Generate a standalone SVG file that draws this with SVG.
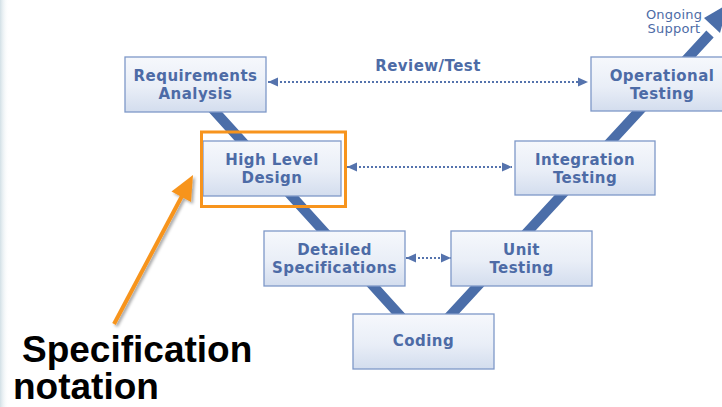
<svg xmlns="http://www.w3.org/2000/svg" width="722" height="407" viewBox="0 0 722 407">
  <defs>
    <linearGradient id="boxFill" x1="0" y1="0" x2="0" y2="1">
      <stop offset="0" stop-color="#f6f8fc"/>
      <stop offset="0.55" stop-color="#e9eef7"/>
      <stop offset="1" stop-color="#d3ddee"/>
    </linearGradient>
    <linearGradient id="edgeFade" x1="0" y1="0" x2="1" y2="0">
      <stop offset="0" stop-color="#d2e0e6"/>
      <stop offset="1" stop-color="#ffffff" stop-opacity="0"/>
    </linearGradient>
    <marker id="dotHead" viewBox="0 0 10 10" refX="10" refY="5" markerWidth="10" markerHeight="10" markerUnits="userSpaceOnUse" orient="auto-start-reverse">
      <path d="M0,0.5 L10,5 L0,9.5 Z" fill="#5573ad"/>
    </marker>
    <filter id="softShadow" x="-20%" y="-20%" width="140%" height="140%">
      <feDropShadow dx="2" dy="2" stdDeviation="1.8" flood-color="#000000" flood-opacity="0.35"/>
    </filter>
    <style>
      .box { fill: url(#boxFill); stroke: #7e98c8; stroke-width: 1.3; }
      .label { font-family: "DejaVu Sans", Verdana, sans-serif; font-weight: bold; font-size: 15px; letter-spacing: 0.45px; fill: #4d6ba6; text-anchor: middle; }
      .note { font-family: "DejaVu Sans", Verdana, sans-serif; font-size: 13px; letter-spacing: 0.2px; fill: #4d6ba6; text-anchor: middle; }
      .spine { fill: none; stroke: #4b6ea9; stroke-width: 10; stroke-linejoin: miter; }
      .dotted { fill: none; stroke: #5573ad; stroke-width: 2; stroke-dasharray: 2 2; }
      .callout { font-family: "Liberation Sans", Arial, sans-serif; font-weight: bold; font-size: 37px; fill: #000000; }
    </style>
  </defs>

  <!-- page background -->
  <rect x="0" y="0" width="722" height="407" fill="#ffffff"/>
  <rect x="0" y="0" width="9" height="407" fill="url(#edgeFade)"/>

  <!-- V-model spine and connectors -->
  <g id="connectors">
    <polyline class="spine" points="190,84 425,343 710,34"/>
    <path d="M728,4 L704,18 L720,33 Z" fill="#4b6ea9"/>
    <line class="dotted" x1="268" y1="82" x2="588" y2="82" marker-start="url(#dotHead)" marker-end="url(#dotHead)"/>
    <line class="dotted" x1="347" y1="167" x2="512" y2="167" marker-start="url(#dotHead)" marker-end="url(#dotHead)"/>
    <line class="dotted" x1="406" y1="258" x2="451" y2="258" marker-start="url(#dotHead)" marker-end="url(#dotHead)"/>
    <text class="label" x="428" y="71">Review/Test</text>
    <text class="note" x="674" y="19">Ongoing</text>
    <text class="note" x="674" y="32.5">Support</text>
  </g>

  <g id="requirements-analysis">
    <rect class="box" x="125" y="57" width="141" height="55"/>
    <text class="label" x="195.5" y="80.5">Requirements</text>
    <text class="label" x="195.5" y="98.5">Analysis</text>
  </g>

  <g id="high-level-design">
    <rect class="box" x="203" y="141" width="138" height="55"/>
    <text class="label" x="272" y="164.5">High Level</text>
    <text class="label" x="272" y="182.5">Design</text>
  </g>

  <g id="detailed-specifications">
    <rect class="box" x="264" y="231" width="141" height="55"/>
    <text class="label" x="334.5" y="254.5">Detailed</text>
    <text class="label" x="334.5" y="272.5">Specifications</text>
  </g>

  <g id="coding">
    <rect class="box" x="353" y="314" width="141" height="55"/>
    <text class="label" x="423.5" y="346">Coding</text>
  </g>

  <g id="unit-testing">
    <rect class="box" x="451" y="231" width="141" height="55"/>
    <text class="label" x="521.5" y="254.5">Unit</text>
    <text class="label" x="521.5" y="272.5">Testing</text>
  </g>

  <g id="integration-testing">
    <rect class="box" x="515" y="141" width="140" height="54"/>
    <text class="label" x="585" y="164.5">Integration</text>
    <text class="label" x="585" y="182.5">Testing</text>
  </g>

  <g id="operational-testing">
    <rect class="box" x="591" y="57" width="142" height="54"/>
    <text class="label" x="662" y="80.5">Operational</text>
    <text class="label" x="662" y="98.5">Testing</text>
  </g>

  <!-- orange highlight and callout -->
  <g id="highlight">
    <rect x="201.5" y="132" width="144" height="74.5" fill="none" stroke="#f7941d" stroke-width="3"/>
  </g>

  <g id="callout-arrow" filter="url(#softShadow)">
    <line x1="114" y1="324" x2="182" y2="196" stroke="#f7941d" stroke-width="4"/>
    <path d="M193,175 L171.5,191.5 L191,202 Z" fill="#f7941d"/>
  </g>

  <g id="callout-text">
    <text class="callout" x="22" y="362">Specification</text>
    <text class="callout" x="13" y="399">notation</text>
  </g>
</svg>
